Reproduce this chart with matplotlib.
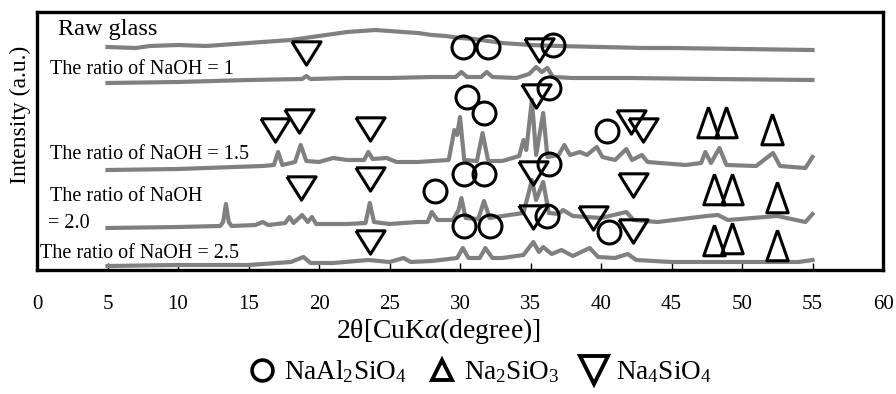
# XRD patterns, raw glass and NaOH ratios
import matplotlib
matplotlib.use('Agg')
import matplotlib.pyplot as plt
from matplotlib.lines import Line2D

plt.rcParams['font.family'] = ['Liberation Serif', 'DejaVu Serif']
plt.rcParams['mathtext.fontset'] = 'custom'
plt.rcParams['mathtext.rm'] = 'Liberation Serif'
plt.rcParams['mathtext.it'] = 'Liberation Serif:italic'

# traces (2theta, intensity a.u., already offset)
raw_x = [5, 7, 8, 10, 12, 14, 15, 17, 18, 19, 20, 21, 22, 23, 24, 25, 26, 27, 28, 29, 30, 31, 32, 33, 35, 37, 40, 43, 45, 50, 55]
raw_y = [223, 222, 224, 225, 224, 226, 227, 229, 230, 232, 234, 236, 238, 239, 240, 239, 238, 237, 235, 234, 232, 231, 229, 227, 225, 224, 223, 222, 222, 221, 220]

r1_x = [5, 10, 15, 18.8, 19.1, 19.4, 22, 25, 28, 29.7, 30.1, 30.5, 31.5, 31.9, 32.3, 34, 34.9, 35.4, 35.8, 36.2, 36.6, 38, 42, 48, 55]
r1_y = [187, 188, 190, 191, 194, 191, 192, 192, 193, 193, 198, 193, 193, 198, 193, 192, 196, 203, 198, 202, 193, 192, 192, 191, 190]

r15_x = [5, 10, 14, 16, 16.8, 17.1, 17.4, 18.3, 18.7, 19.1, 20, 21, 22, 23.2, 23.5, 23.8, 24.8, 25.5, 27, 29.2, 29.6, 29.8, 30.0,
         30.3, 31.2, 31.6, 32.0, 33, 34.2, 34.5, 34.7, 35.1, 35.4, 35.9, 36.2, 37, 37.4, 37.8, 38.5, 39, 39.7, 40.1, 41, 41.8,
         42.2, 42.9, 43.3, 46, 47.1, 47.4, 47.8, 48.4, 48.9, 51, 52.2, 52.7, 54.5, 55]
r15_y = [100, 101, 103, 104, 105, 118, 105, 108, 125, 109, 108, 112, 110, 110, 118, 111, 112, 108, 108, 110, 140, 135, 153,
         110, 109, 137, 109, 109, 114, 130, 120, 170, 115, 157, 113, 115, 125, 115, 118, 115, 123, 113, 110, 121,
         110, 115, 108, 105, 107, 118, 107, 122, 105, 104, 117, 104, 102, 113]

r20_x = [5, 10, 13, 13.2, 13.4, 13.6, 13.8, 15.5, 16, 16.4, 17.6, 17.9, 18.2, 18.8, 19.2, 19.5, 19.8, 22, 23.3, 23.6, 23.9,
         25, 27, 27.7, 28.0, 28.4, 29.5, 29.9, 30.1, 30.4, 31.3, 31.7, 32.1, 33, 34.5, 35.1, 35.4, 35.9, 36.3, 37, 37.3,
         38, 40, 41.8, 42.3, 44, 47.5, 48.3, 49, 52.5, 54.5, 55]
r20_y = [42, 43, 44, 48, 66, 48, 44, 45, 48, 45, 47, 53, 47, 55, 48, 53, 46, 46, 47, 67, 48,
         46, 48, 48, 58, 50, 50, 60, 72, 52, 51, 69, 52, 54, 57, 90, 70, 88, 57, 56, 60,
         54, 52, 58, 50, 48, 54, 55, 50, 54, 48, 56]

r25_x = [5, 10, 15, 18, 18.9, 19.4, 21, 23.5, 25, 26, 26.5, 28, 29.8, 30.2, 30.6, 31.4, 31.8, 32.3, 33, 34.5, 35.2, 35.6,
         35.9, 36.5, 37.2, 38, 39.2, 39.8, 41, 41.9, 42.5, 45, 50, 54, 55]
r25_y = [4, 5, 5, 8, 13, 7, 7, 10, 8, 12, 8, 9, 12, 22, 12, 12, 22, 12, 12, 15, 28, 18,
         23, 16, 20, 14, 22, 13, 12, 16, 10, 8, 8, 8, 10]

# phase markers
nas_x = [30.2, 32.0, 36.6, 30.5, 31.7, 36.3, 40.4, 28.2, 30.3, 31.7, 36.3, 30.3, 32.1, 36.2, 40.6]
nas_y = [223, 223, 225, 173, 157, 182, 139, 79, 96, 96, 106, 44, 44, 54, 38]
na2_x = [47.6, 48.9, 52.1, 48.0, 49.3, 52.5, 48.0, 49.3, 52.5]
na2_y = [148, 148, 141, 81, 81, 73, 30, 32, 25]
na4_x = [19.1, 35.6, 16.9, 18.6, 23.6, 35.4, 42.1, 43.0, 18.7, 23.6, 35.2, 42.3, 23.6, 35.2, 39.4, 42.3]
na4_y = [217, 220, 140, 149, 141, 174, 148, 140, 82, 91, 97, 85, 28, 53, 52, 39]

labels = ['Raw glass', 'The ratio of NaOH = 1', 'The ratio of NaOH = 1.5', 'The ratio of NaOH', '= 2.0',
          'The ratio of NaOH = 2.5']
lab_x = [1.5, 0.92, 0.92, 0.92, 0.78, 0.21]
lab_y = [240, 200, 115, 73, 46, 17]

up_tri = [(0, 1), (-0.7, -1), (0.7, -1), (0, 1)]
dn_tri = [(-1, 0.8), (1, 0.8), (0, -0.8), (-1, 0.8)]

fig = plt.figure(figsize=(8.96, 3.94), dpi=100)
ax = fig.add_axes([37/896, 1-270/394, 846/896, 258/394])

for xs, ys in [(raw_x, raw_y), (r1_x, r1_y), (r15_x, r15_y), (r20_x, r20_y), (r25_x, r25_y)]:
    ax.plot(xs, ys, color='#808080', linewidth=3.0, solid_joinstyle='round')

ax.plot(nas_x, nas_y, 'o', ms=16.5, mfc='none', mec='black', mew=2.2, linestyle='none')
ax.plot(na2_x, na2_y, marker=up_tri, ms=22, mfc='none', mec='black', mew=2.2, linestyle='none')
ax.plot(na4_x, na4_y, marker=dn_tri, ms=21, mfc='none', mec='black', mew=2.2, linestyle='none')

for t, x, y in zip(labels, lab_x, lab_y):
    ax.text(x, y, t, fontsize=17.5 if t == 'Raw glass' else 14.5, ha='left', va='center')

ax.set_xlim(0, 60)
ax.set_ylim(0, 258)
ax.set_xticks(range(0, 61, 5))
ax.set_yticks([])
ax.tick_params(axis='x', direction='in', length=5, width=1, pad=18, labelsize=15)
for s in ax.spines.values():
    s.set_linewidth(2.4)

fig.text(438/896, 1-331/394, r'2θ[CuK$\alpha$(degree)]', fontsize=20, ha='center', va='center')
fig.text(20/896, 1-115/394, 'Intensity (a.u.)', fontsize=17, rotation=90, ha='center', va='center')

handles = [Line2D([], [], marker='o', ms=15, mfc='none', mec='black', mew=2.6, linestyle='none'),
           Line2D([], [], marker='^', ms=15, mfc='none', mec='black', mew=2.8, linestyle='none'),
           Line2D([], [], marker='v', ms=20, mfc='none', mec='black', mew=2.8, linestyle='none')]
names = ['NaAl$_2$SiO$_4$', 'Na$_2$SiO$_3$', 'Na$_4$SiO$_4$']
fig.legend(handles, names, loc='center', bbox_to_anchor=(480/896, 1-372/394), ncol=3, frameon=False,
           fontsize=19.5, handletextpad=0.3, columnspacing=0.8, handlelength=1.0)

fig.savefig('out.png', dpi=100)
